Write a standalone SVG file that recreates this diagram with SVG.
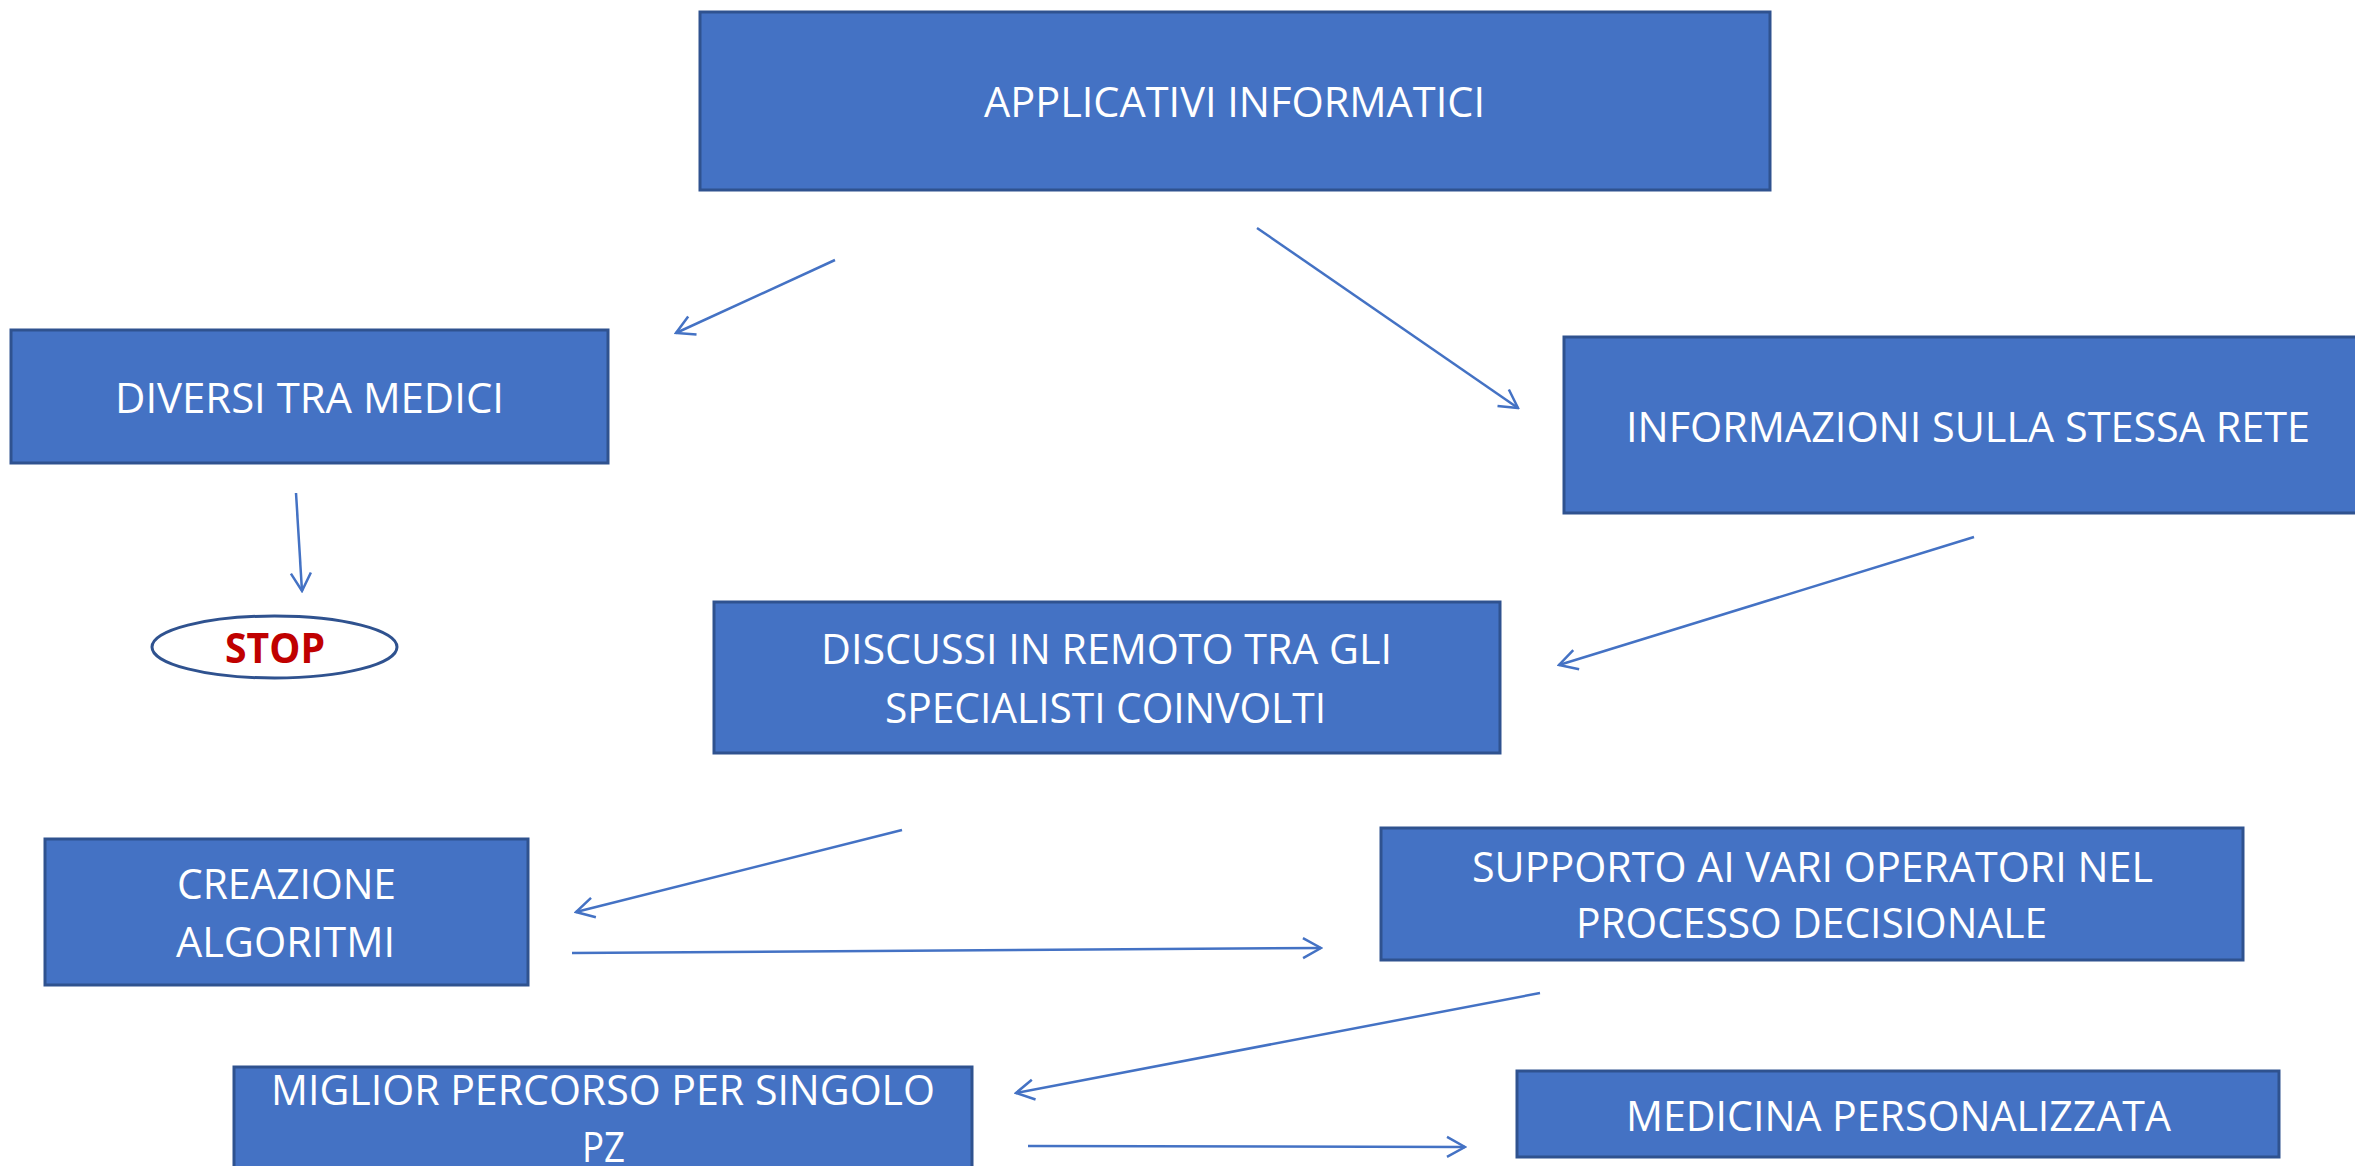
<svg xmlns="http://www.w3.org/2000/svg" width="2355" height="1166" viewBox="0 0 2355 1166">
  <style>
    .box { fill: #4472C4; stroke: #2F528F; stroke-width: 3; }
    .lbl { fill: #FFFFFF; font-family: "Open Sans", "Noto Sans", "Liberation Sans", sans-serif; font-size: 42px; }
    .stop-shape { fill: #FFFFFF; stroke: #2F528F; stroke-width: 3; }
    .stop-lbl { fill: #C00000; font-family: "Open Sans", "Noto Sans", "Liberation Sans", sans-serif; font-size: 41px; font-weight: bold; }
    .link { stroke: #4472C4; stroke-width: 2.5; fill: none; marker-end: url(#open-arrow); }
  </style>
  <defs>
    <marker id="open-arrow" markerUnits="userSpaceOnUse" viewBox="-22 -12 24 24" markerWidth="24" markerHeight="24" refX="0" refY="0" orient="auto">
      <path d="M -18 -10 L 0 0 L -18 10" fill="none" stroke="#4472C4" stroke-width="2.5"/>
    </marker>
  </defs>
  <rect width="2355" height="1166" fill="#FFFFFF"/>

  <!-- connectors -->
  <g id="connectors">
    <line class="link" x1="835" y1="260" x2="676" y2="333"/>
    <line class="link" x1="1257" y1="228" x2="1518" y2="408"/>
    <line class="link" x1="1974" y1="537" x2="1559" y2="665"/>
    <line class="link" x1="296" y1="493" x2="302" y2="591"/>
    <line class="link" x1="902" y1="830" x2="576" y2="912"/>
    <line class="link" x1="572" y1="953" x2="1321" y2="948"/>
    <line class="link" x1="1540" y1="993" x2="1016" y2="1093"/>
    <line class="link" x1="1028" y1="1146" x2="1465" y2="1147"/>
  </g>

  <g id="applicativi-informatici">
    <rect class="box" x="700" y="12" width="1070" height="178"/>
    <text class="lbl" x="984" y="117" textLength="501" lengthAdjust="spacingAndGlyphs">APPLICATIVI INFORMATICI</text>
  </g>

  <g id="diversi-tra-medici">
    <rect class="box" x="11" y="330" width="597" height="133"/>
    <text class="lbl" x="115" y="413" textLength="389" lengthAdjust="spacingAndGlyphs">DIVERSI TRA MEDICI</text>
  </g>

  <g id="informazioni-rete">
    <rect class="box" x="1564" y="337" width="806" height="176"/>
    <text class="lbl" x="1626" y="442" textLength="684" lengthAdjust="spacingAndGlyphs">INFORMAZIONI SULLA STESSA RETE</text>
  </g>

  <g id="stop">
    <ellipse class="stop-shape" cx="274.5" cy="647" rx="122.5" ry="31"/>
    <text class="stop-lbl" x="225" y="663" textLength="100" lengthAdjust="spacingAndGlyphs">STOP</text>
  </g>

  <g id="discussi-in-remoto">
    <rect class="box" x="714" y="602" width="786" height="151"/>
    <text class="lbl" x="821" y="664" textLength="571" lengthAdjust="spacingAndGlyphs">DISCUSSI IN REMOTO TRA GLI</text>
    <text class="lbl" x="885" y="723" textLength="441" lengthAdjust="spacingAndGlyphs">SPECIALISTI COINVOLTI</text>
  </g>

  <g id="creazione-algoritmi">
    <rect class="box" x="45" y="839" width="483" height="146"/>
    <text class="lbl" x="177" y="899" textLength="219" lengthAdjust="spacingAndGlyphs">CREAZIONE</text>
    <text class="lbl" x="176" y="957" textLength="219" lengthAdjust="spacingAndGlyphs">ALGORITMI</text>
  </g>

  <g id="supporto-operatori">
    <rect class="box" x="1381" y="828" width="862" height="132"/>
    <text class="lbl" x="1472" y="882" textLength="681" lengthAdjust="spacingAndGlyphs">SUPPORTO AI VARI OPERATORI NEL</text>
    <text class="lbl" x="1576" y="938" textLength="471" lengthAdjust="spacingAndGlyphs">PROCESSO DECISIONALE</text>
  </g>

  <g id="miglior-percorso">
    <rect class="box" x="234" y="1067" width="738" height="120"/>
    <text class="lbl" x="271" y="1105" textLength="664" lengthAdjust="spacingAndGlyphs">MIGLIOR PERCORSO PER SINGOLO</text>
    <text class="lbl" x="582" y="1162" textLength="43" lengthAdjust="spacingAndGlyphs">PZ</text>
  </g>

  <g id="medicina-personalizzata">
    <rect class="box" x="1517" y="1071" width="762" height="86"/>
    <text class="lbl" x="1626" y="1131" textLength="545" lengthAdjust="spacingAndGlyphs">MEDICINA PERSONALIZZATA</text>
  </g>
</svg>
